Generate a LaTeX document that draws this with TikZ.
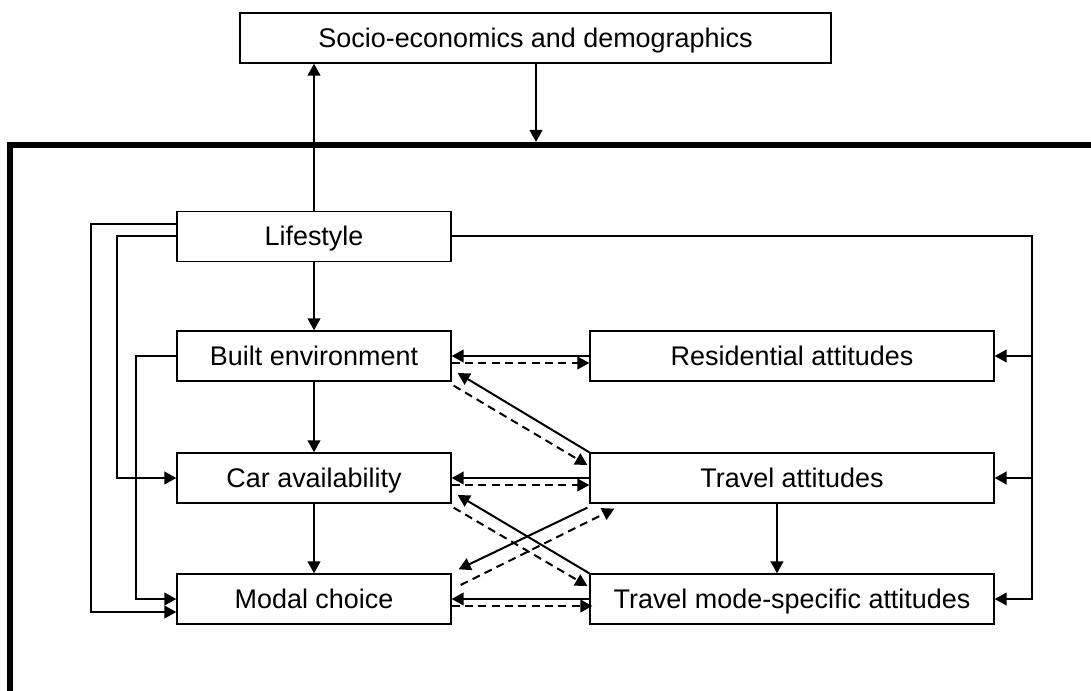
\documentclass[tikz,border=0pt]{standalone}
\usepackage{fontspec}
\setmainfont{Liberation Sans}
\usetikzlibrary{arrows.meta,calc}
\begin{document}
\begin{tikzpicture}[x=0.75pt,y=-0.75pt,
  box/.style={draw, line width=1pt, minimum height=37.5pt, inner sep=0pt, text height=18pt, text depth=3.8pt, font=\fontsize{20.2}{24}\selectfont},
  narrow/.style={box, minimum width=205.5pt},
  wide/.style={box, minimum width=303pt},
  conn/.style={line width=1.5pt},
  arr/.style={conn, -{Triangle[length=9pt,width=9.5pt]}},
  dsh/.style={arr, dash pattern=on 6pt off 4pt}]
\useasboundingbox (0,0) rectangle (1091,691);
\clip (0,0) rectangle (1091,691);
% frame
\draw[line width=4.5pt] (10,720) -- (10,145) -- (1120,145);
\coordinate (frametop) at (536,142);
% nodes
\node[box, minimum width=443.25pt] (socio) at (535.5,38) {Socio-economics and demographics};
\node[narrow] (life) at (314,236.5) {Lifestyle};
\node[narrow] (built) at (314,356) {Built environment};
\node[narrow] (car) at (314,478) {Car availability};
\node[narrow] (modal) at (314,599) {Modal choice};
\node[wide] (res) at (792,356) {Residential attitudes};
\node[wide] (ta) at (792,478) {Travel attitudes};
\node[wide] (tm) at (792,599) {Travel mode-specific attitudes};
% vertical arrows
\draw[arr] (life.north) -- (socio.south -| life.north);
\draw[arr] (socio.south -| frametop) -- (frametop);
\draw[arr] (life) -- (built);
\draw[arr] (built) -- (car);
\draw[arr] (car) -- (modal);
\draw[arr] (ta.south -| 777,0) -- (tm.north -| 777,0);
% left connectors
\draw[arr] ($(life.west)+(0,-12.5)$) -- ++(-85,0) |- ($(modal.west)+(0,13)$);
\draw[arr] (life.west) -- ++(-59,0) |- (car.west);
\draw[arr] (built.west) -- ++(-40,0) |- (modal.west);
% right connectors
\coordinate (rx) at (1032,0);
\draw[arr] (life.east) -| (rx |- tm.east) -- (tm.east);
\draw[arr] (rx |- res.east) -- (res.east);
\draw[arr] (rx |- ta.east) -- (ta.east);
% middle arrows
\draw[arr] (res.west) -- (built.east);
\draw[dsh] ($(built.east)+(0,7)$) -- ($(res.west)+(0,7)$);
\draw[arr] (ta.north west) -- ($(built.east)+(6,17)$);
\draw[dsh] ($(built.south east)+(2,4)$) -- ($(ta.west)+(-2,-13)$);
\draw[arr] (ta.west) -- (car.east);
\draw[dsh] ($(car.east)+(0,7)$) -- ($(ta.west)+(0,7)$);
\draw[arr] (tm.north west) -- ($(car.east)+(6,17)$);
\draw[dsh] ($(car.south east)+(2,4)$) -- ($(tm.west)+(-2,-13)$);
\draw[arr] ($(ta.south west)+(-2,4)$) -- ($(modal.north east)+(7,-4)$);
\draw[dsh] ($(modal.east)+(9,-14)$) -- ($(ta.south west)+(25,5)$);
\draw[arr] (tm.west) -- (modal.east);
\draw[dsh] ($(modal.east)+(0,7)$) -- ($(tm.west)+(3,7)$);
\end{tikzpicture}
\end{document}
